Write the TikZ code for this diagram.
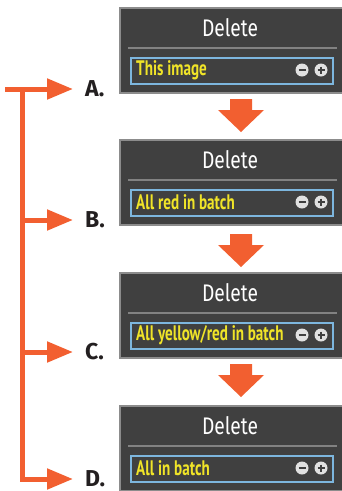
\documentclass[tikz,border=0pt]{standalone}
\usepackage{fontspec}
\usetikzlibrary{arrows.meta}
\newfontfamily\titlefont[FakeStretch=0.80]{Fira Sans}
\newfontfamily\itemfont[FakeStretch=0.72]{PT Sans}
\newfontfamily\labelfont{Fira Sans}
\definecolor{panelbg}{RGB}{64,64,64}
\definecolor{panelborder}{RGB}{140,140,140}
\definecolor{sepcol}{RGB}{130,130,130}
\definecolor{boxblue}{RGB}{125,182,222}
\definecolor{itemyellow}{RGB}{240,228,40}
\definecolor{accent}{RGB}{242,95,48}
\definecolor{labeldark}{RGB}{35,31,32}
\definecolor{iconlight}{RGB}{225,225,225}
\tikzset{
  panelframe/.style={anchor=north west, minimum width=226pt, minimum height=85pt, inner sep=0pt, fill=panelbg, draw=panelborder, line width=1.5pt},
  titletext/.style={text=white, font=\titlefont\fontsize{24}{24}\selectfont, inner sep=0pt},
  sepline/.style={draw=sepcol, line width=1.2pt},
  itembox/.style={anchor=north west, minimum width=202pt, minimum height=26pt, inner sep=0pt, draw=boxblue, line width=1.5pt},
  itemtext/.style={anchor=west, text=itemyellow, font=\itemfont\bfseries\fontsize{21}{21}\selectfont, inner sep=0pt},
  iconcirc/.style={circle, fill=iconlight, minimum size=13pt, inner sep=0pt},
  icongly/.style={draw=panelbg, line width=2pt},
  lab/.style={anchor=west, text=labeldark, font=\labelfont\bfseries\fontsize{23}{23}\selectfont, inner sep=0pt},
  bracket/.style={draw=accent, line width=5pt},
  brarrow/.style={bracket, -{Triangle[length=26pt,width=20pt]}, shorten >=12pt},
  downarrow/.style={fill=accent},
  pics/panel/.style={code={
    \node[panelframe] (-frame) at (0,0) {};
    \node[titletext] (-title) at (111,21) {Delete};
    \draw[sepline] (9,41) -- (218,41);
    \node[itembox] (-box) at (11,50) {};
    \node[itemtext] (-text) at (17,63) {#1};
    \node[iconcirc] (-minus) at (183,63) {};
    \draw[icongly] (179.5,63) -- (186.5,63);
    \node[iconcirc] (-plus) at (202,63) {};
    \draw[icongly] (198.5,63) -- (205.5,63) (202,59.5) -- (202,66.5);
  }},
  pics/downarr/.style={code={
    \fill[downarrow] (-11,0) -- (11,0) -- (11,11) -- (23,11) -- (0,33) -- (-23,11) -- (-11,11) -- cycle;
  }}
}
\begin{document}
\begin{tikzpicture}[x=1pt,y=-1pt]
\useasboundingbox (0,0) rectangle (342,491);
\begin{scope}
\clip (0,0) rectangle (342,491);
\pic (p1) at (119,7) {panel={This image}};
\pic (p2) at (119,139) {panel={All red in batch}};
\pic (p3) at (119,272) {panel={All yellow/red in batch}};
\pic (p4) at (119,405) {panel={All in batch}};
\end{scope}
\pic (d1) at (241,99) {downarr};
\pic (d2) at (241,234) {downarr};
\pic (d3) at (241,364) {downarr};
\node[lab] (A) at (85,89) {A.};
\node[lab] (B) at (85,220) {B.};
\node[lab] (C) at (85,352) {C.};
\node[lab] (D) at (85,479) {D.};
\coordinate (stub) at (5,89);
\coordinate (vtop) at (22,89);
\coordinate (vB) at (22,220);
\coordinate (vC) at (22,352);
\draw[brarrow] (stub) -- (A.west);
\draw[brarrow] (vtop) |- (D.west);
\draw[brarrow] (vB) -- (B.west);
\draw[brarrow] (vC) -- (C.west);
\end{tikzpicture}
\end{document}
